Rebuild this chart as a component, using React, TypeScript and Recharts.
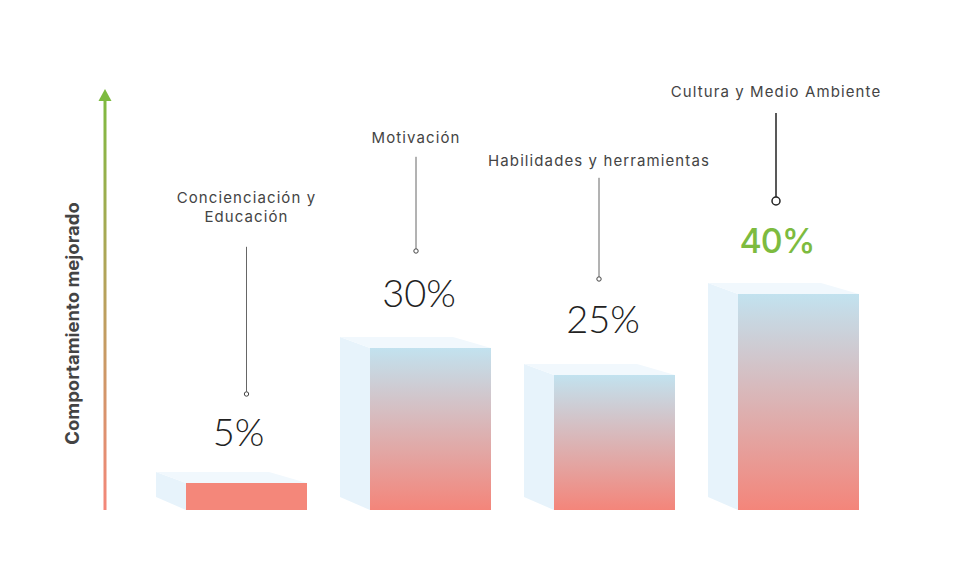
import React from "react";
import { BarChart, Bar, XAxis, YAxis } from "recharts";

// ---- data ----
const categories = ["Concienciación y Educación", "Motivación", "Habilidades y herramientas", "Cultura y Medio Ambiente"];
const categoryLines = [["Concienciación y", "Educación"], ["Motivación"], ["Habilidades y herramientas"], ["Cultura y Medio Ambiente"]];
const values = [5, 30, 25, 40];
const valueLabels = ["5%", "30%", "25%", "40%"];
const axisTitle = "Comportamiento mejorado";

const data = categories.map((name, i) => ({ name, value: values[i], label: valueLabels[i], lines: categoryLines[i] }));

// ---- layout / style (not data) ----
const annotationLayout = [
  { lineDx: 0, valueDx: -8, valueGap: 52, circleGap: 89, lineLen: 145, labelGap: 31, strong: false },
  { lineDx: -14.5, valueDx: 3, valueGap: 56, circleGap: 97, lineLen: 92, labelGap: 20, strong: false },
  { lineDx: -15.5, valueDx: 4, valueGap: 57, circleGap: 96, lineLen: 99, labelGap: 18, strong: false },
  { lineDx: -22.5, valueDx: 1, valueGap: 54, circleGap: 93, lineLen: 84, labelGap: 22, strong: true },
];
const FONT = "Inter, 'Open Sans', sans-serif";
const VALUE_FONT = "Lato, Inter, sans-serif";
const DEPTH_X = 30;
const DEPTH_Y = 11;

const Bar3D = (props: any) => {
  const { x, y, width, height, index, payload } = props;
  const L = annotationLayout[index];
  const bottom = y + height;
  const front = index === 0 ? "#f4877a" : "url(#frontGrad)";
  const cx = x + width / 2 + L.lineDx;
  const circleY = y - L.circleGap;
  const r = L.strong ? 4 : 2.2;
  const lineTop = circleY - r - L.lineLen;
  const lines: string[] = payload.lines;
  const lineH = 18.5;
  const labelBottom = lineTop - L.labelGap;
  return (
    <g>
      {/* side face */}
      <polygon
        points={`${x - DEPTH_X},${y - DEPTH_Y} ${x},${y} ${x},${bottom} ${x - DEPTH_X},${bottom - 13}`}
        fill="#e7f3fb"
      />
      {/* top face */}
      <polygon
        points={`${x - DEPTH_X},${y - DEPTH_Y} ${x + width - 38},${y - DEPTH_Y} ${x + width},${y} ${x},${y}`}
        fill="#f1f8fd"
      />
      {/* front face */}
      <rect x={x} y={y} width={width} height={height} fill={front} />
      {/* annotation */}
      <text
        x={x + width / 2 + L.lineDx + L.valueDx}
        y={y - L.valueGap}
        textAnchor="middle"
        dominantBaseline="central"
        fontFamily={L.strong ? FONT : VALUE_FONT}
        fontSize={L.strong ? 34 : 38}
        fontWeight={L.strong ? 500 : 300}
        letterSpacing={L.strong ? -1 : 0}
        fill={L.strong ? "#7dbb3f" : "#222"}
      >
        {payload.label}
      </text>
      <line x1={cx} x2={cx} y1={lineTop} y2={circleY - r} stroke={L.strong ? "#222" : "#666"} strokeWidth={L.strong ? 1.5 : 1} />
      <circle cx={cx} cy={circleY} r={r} fill="#fff" stroke={L.strong ? "#222" : "#444"} strokeWidth={L.strong ? 1.5 : 1} />
      <text
        textAnchor="middle"
        dominantBaseline="central"
        fontFamily={FONT}
        fontSize={15}
        letterSpacing={1.1}
        fill="#444"
      >
        {lines.map((t, k) => (
          <tspan key={k} x={cx} y={labelBottom - (lines.length - 1 - k) * lineH}>
            {t}
          </tspan>
        ))}
      </text>
    </g>
  );
};

const AxisArrow = () => (
  <g>
    <defs>
      <linearGradient id="axisGrad" gradientUnits="userSpaceOnUse" x1={0} y1={510} x2={0} y2={89}>
        <stop offset="0%" stopColor="#f4877a" />
        <stop offset="100%" stopColor="#7dbb3f" />
      </linearGradient>
    </defs>
    <rect x={103.5} y={99} width={3} height={411} fill="url(#axisGrad)" />
    <polygon points="105,89 98.5,101 111.5,101" fill="#7dbb3f" />
    <text
      x={72}
      y={323.5}
      transform="rotate(-90 72 323.5)"
      textAnchor="middle"
      dominantBaseline="central"
      fontFamily={FONT}
      fontSize={18.5}
      fontWeight={700}
      fill="#444"
    >
      {axisTitle}
    </text>
  </g>
);

export default function App() {
  return (
    <div style={{ position: "absolute", left: 0, top: 0, width: 955, height: 574, background: "#fff" }}>
      <BarChart
        width={955}
        height={574}
        data={data}
        margin={{ top: 240, right: 65, bottom: 64, left: 154 }}
        barSize={121}
      >
        <defs>
          <linearGradient id="frontGrad" x1="0" y1="0" x2="0" y2="1">
            <stop offset="0%" stopColor="#c2e2ef" />
            <stop offset="100%" stopColor="#f4857a" />
          </linearGradient>
        </defs>
        <XAxis dataKey="name" hide />
        <YAxis hide domain={[0, 50]} />
        <Bar dataKey="value" shape={<Bar3D />} isAnimationActive={false} />
        <AxisArrow />
      </BarChart>
    </div>
  );
}
